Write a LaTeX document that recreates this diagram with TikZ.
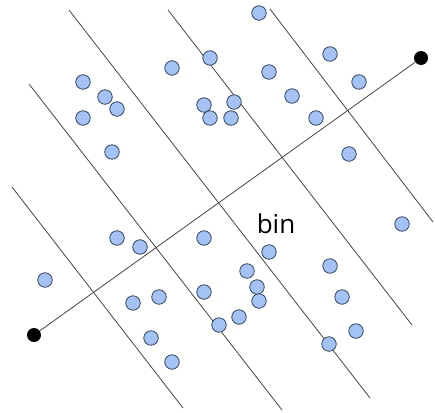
\documentclass[tikz,border=0pt]{standalone}
\usepackage{fontspec}
\setmainfont{Open Sans}
\usepackage{xcolor}
\usepackage{tikz}
\usetikzlibrary{positioning}

\definecolor{ptfill}{HTML}{A4C2F4}
\definecolor{ptedge}{HTML}{34465E}
\definecolor{binline}{HTML}{444444}

\begin{document}
\begin{tikzpicture}[
    x=1pt, y=-1pt,
    sep/.style={binline, line width=0.8pt},
    pt/.style={circle, draw=ptedge, fill=ptfill, line width=0.8pt, minimum size=14.5pt, inner sep=0pt},
    endpt/.style={circle, fill=black, minimum size=14pt, inner sep=0pt}
]
    \useasboundingbox (0,0) rectangle (435,412);

    % Bin boundaries
    \draw[sep] (12,187) -- (183,408);
    \draw[sep] (29,84) -- (282,410);
    \draw[sep] (69,10) -- (370,398);
    \draw[sep] (168,10) -- (412,325);
    \draw[sep] (270,9) -- (433,222);

    % Projection axis
    \node[endpt] (lo) at (34,335) {};
    \node[endpt] (hi) at (421,58) {};
    \draw[sep] (lo) -- (hi);

    % Data points
    \foreach \x/\y [count=\i] in {
        83/82, 105/97, 117/109, 83/118, 112/152, 172/68, 210/58, 204/105, 210/118,
        259/13, 330/54, 269/72, 359/82, 292/96, 234/102, 231/118, 316/118, 349/154,
        117/238, 140/247, 204/238, 45/280, 159/297, 133/303, 204/292, 151/338, 172/362, 219/325,
        269/252, 402/224, 247/271, 330/266, 257/287, 259/301, 342/297, 239/317, 356/331, 329/344}
        \node[pt] (p\i) at (\x,\y) {};

    \node (bin) at (276,224) {\fontsize{26}{30}\selectfont bin};

\end{tikzpicture}
\end{document}
